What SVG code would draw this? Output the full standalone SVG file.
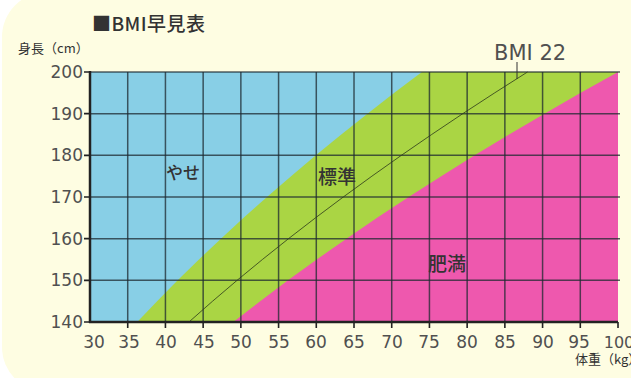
<svg xmlns="http://www.w3.org/2000/svg" width="631" height="378" viewBox="0 0 631 378">
<style>
.num{font-family:"DejaVu Sans",sans-serif;font-size:17px;fill:#505050}
.jp{font-family:"Noto Sans CJK JP",sans-serif;fill:#333}
.grid{stroke:#1e2a30;stroke-opacity:0.75;stroke-width:1.5;fill:none}
.tick{stroke:#222;stroke-width:1.6}
</style>
<rect x="0" y="0" width="631" height="378" fill="#ffffff"/>
<rect x="2" y="-8" width="700" height="400" rx="45" fill="#fefde2"/>
<g id="title">
<text class="jp" x="92" y="31" font-size="19" textLength="113" font-weight="500" fill="#1a1a1a">■BMI早見表</text>
</g>
<g id="y-axis-title"><text class="jp" x="18" y="53" font-size="13" fill="#444">身長（cm）</text></g>
<g id="regions">
<rect x="90" y="72" width="528" height="250" fill="#88cfe6"/>
<polygon id="standard" fill="#aad544" points="421.89,72 394.33,92.83 367.47,113.67 341.30,134.5 315.84,155.33 291.07,176.17 266.99,197 243.62,217.83 220.95,238.67 198.97,259.5 177.69,280.33 157.10,301.17 137.22,322 618,322 618,72"/>
<polygon id="obese" fill="#ee58ae" points="618.01,72 580.77,92.83 544.47,113.67 509.11,134.5 474.69,155.33 441.22,176.17 408.69,197 377.11,217.83 346.46,238.67 316.76,259.5 288.0,280.33 260.19,301.17 233.32,322 618,322"/>
</g>
<g id="grid">
<path class="grid" d="M127.72,72V322M165.43,72V322M203.15,72V322M240.86,72V322M278.58,72V322M316.29,72V322M354.01,72V322M391.72,72V322M429.44,72V322M467.15,72V322M504.87,72V322M542.58,72V322M580.30,72V322"/>
<path class="grid" d="M90,72H620M90,113.67H620M90,155.33H620M90,197H620M90,238.67H620M90,280.33H620" stroke-opacity="0.6"/>
</g>
<g id="connectors">
<polyline fill="none" stroke="#2d3a1a" stroke-opacity="0.8" stroke-width="1" points="188.96,322 212.61,301.17 237.09,280.33 262.40,259.5 288.53,238.67 315.50,217.83 343.29,197 371.92,176.17 401.37,155.33 431.66,134.5 462.77,113.67 494.72,92.83 527.49,72"/>
<line x1="517" y1="62" x2="517" y2="79" stroke="#333" stroke-width="1"/>
</g>
<g id="axes">
<line x1="90" y1="71" x2="90" y2="323" stroke="#222" stroke-width="2.5"/>
<line x1="89" y1="322" x2="618" y2="322" stroke="#222" stroke-width="2.5"/>
<path class="tick" d="M84,72H90M84,113.67H90M84,155.33H90M84,197H90M84,238.67H90M84,280.33H90M84,322H90"/>
<path class="tick" d="M127.72,322v6M165.43,322v6M203.15,322v6M240.86,322v6M278.58,322v6M316.29,322v6M354.01,322v6M391.72,322v6M429.44,322v6M467.15,322v6M504.87,322v6M542.58,322v6M580.30,322v6M618.01,322v6"/>
</g>
<g id="y-labels" text-anchor="end">
<text class="num" x="83" y="78">200</text>
<text class="num" x="83" y="120">190</text>
<text class="num" x="83" y="161">180</text>
<text class="num" x="83" y="203">170</text>
<text class="num" x="83" y="245">160</text>
<text class="num" x="83" y="286">150</text>
<text class="num" x="83" y="328">140</text>
</g>
<g id="x-labels" text-anchor="middle">
<text class="num" x="94" y="348">30</text>
<text class="num" x="129" y="348">35</text>
<text class="num" x="166" y="348">40</text>
<text class="num" x="204" y="348">45</text>
<text class="num" x="241" y="348">50</text>
<text class="num" x="279" y="348">55</text>
<text class="num" x="316" y="348">60</text>
<text class="num" x="354" y="348">65</text>
<text class="num" x="392" y="348">70</text>
<text class="num" x="429" y="348">75</text>
<text class="num" x="467" y="348">80</text>
<text class="num" x="505" y="348">85</text>
<text class="num" x="543" y="348">90</text>
<text class="num" x="579" y="348">95</text>
<text class="num" x="619" y="348" style="font-size:16px">100</text>
</g>
<g id="x-axis-title"><text class="jp" x="575" y="364" font-size="13" fill="#444">体重（kg）</text></g>
<g id="label-yase"><text class="jp" x="166" y="179" font-size="17" font-weight="500">やせ</text></g>
<g id="label-hyojun"><text class="jp" x="318" y="184" font-size="19" font-weight="500">標準</text></g>
<g id="label-himan"><text class="jp" x="428" y="271" font-size="19" font-weight="500" fill="#4a2a45">肥満</text></g>
<g id="label-bmi22"><text class="num" x="494" y="60" fill="#444" style="font-size:21px">BMI 22</text></g>
</svg>
